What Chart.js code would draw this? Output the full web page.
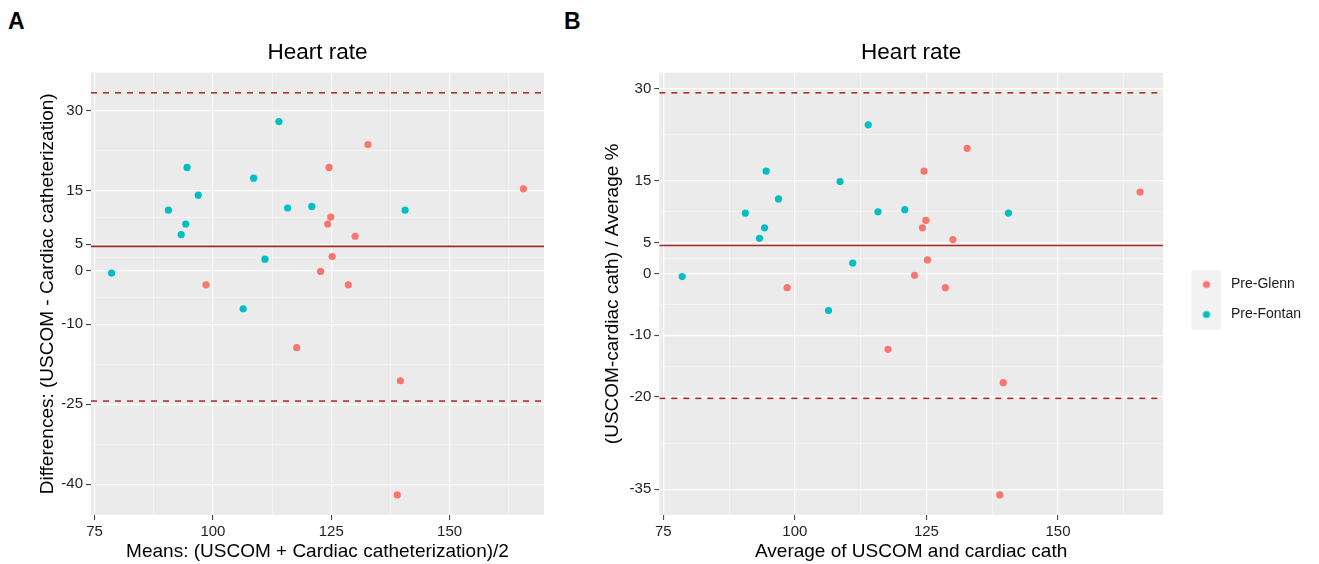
<!DOCTYPE html>
<html>
<head>
<meta charset="utf-8">
<title>Heart rate - Bland-Altman</title>
<script src="https://cdn.jsdelivr.net/npm/chart.js@4/dist/chart.umd.min.js"></script>
<style>
  html, body { margin: 0; padding: 0; background: #ffffff; }
  #wrap { position: relative; width: 1319px; height: 564px; font-family: 'Liberation Sans', Arial, sans-serif; }
  .tag { position: absolute; top: 10px; font-size: 23px; font-weight: bold; line-height: 1; color: #000; }
  #chartA { position: absolute; left: 0; top: 0; }
  #chartB { position: absolute; left: 560px; top: 0; }
</style>
</head>
<body>
<div id="wrap">
  <div class="tag" style="left: 8px;">A</div>
  <div class="tag" style="left: 564px;">B</div>
  <canvas id="chartA" width="560" height="564"></canvas>
  <canvas id="chartB" width="759" height="564"></canvas>
</div>
<script>
// Data
const groups = ['Pre-Glenn', 'Pre-Fontan'];

// Average of USCOM and cardiac cath (same x for both panels)
const glennMean = [132.75, 124.55, 165.6, 124.9, 124.25, 130.05, 125.2, 122.75, 98.55, 128.6, 117.7, 139.6, 138.95];
const fontanMean = [113.95, 94.55, 108.6, 96.9, 90.6, 115.8, 120.9, 140.6, 94.25, 93.3, 111.0, 78.6, 106.4];

// Panel A: differences (USCOM - cardiac catheterization)
const glennDiff = [23.7, 19.4, 15.4, 10.1, 8.8, 6.5, 2.7, -0.1, -2.6, -2.6, -14.4, -20.6, -42.0];
const fontanDiff = [28.0, 19.4, 17.4, 14.2, 11.4, 11.8, 12.1, 11.4, 8.8, 6.8, 2.2, -0.4, -7.1];
const biasA = 4.6;
const upperA = 33.4;
const lowerA = -24.4;

// Panel B: (USCOM - cardiac cath) / average, in %
const glennPct = [20.3, 16.6, 13.2, 8.6, 7.4, 5.5, 2.2, -0.3, -2.3, -2.3, -12.3, -17.7, -35.9];
const fontanPct = [24.1, 16.6, 14.9, 12.1, 9.8, 10.0, 10.35, 9.8, 7.4, 5.7, 1.7, -0.5, -6.0];
const biasB = 4.55;
const upperB = 29.3;
const lowerB = -20.25;

// Axis breaks
const xTicks = [75, 100, 125, 150];
const yTicksA = [-40, -25, -10, 0, 5, 15, 30];
const yTicksB = [-35, -20, -10, 0, 5, 15, 30];

// Colours
const groupColors = ['#F8766D', '#00BFC4'];
const refColor = '#A82828';

Chart.defaults.font.family = "'Liberation Sans', Arial, sans-serif";
Chart.defaults.color = '#222222';

// ggplot-like 5% expansion of the data range
function padRange(values) {
  const lo = Math.min(...values);
  const hi = Math.max(...values);
  const d = (hi - lo) * 0.05;
  return [lo - d, hi + d];
}

// minor breaks halfway between the major ones
function minorBreaks(major, range) {
  const m = [...major].sort((a, b) => a - b);
  const out = [];
  for (let i = 0; i < m.length - 1; i++) out.push((m[i] + m[i + 1]) / 2);
  out.push(m[0] - (m[1] - m[0]) / 2);
  out.push(m[m.length - 1] + (m[m.length - 1] - m[m.length - 2]) / 2);
  return out.filter(v => v > range[0] && v < range[1]);
}

function toPoints(xs, ys) {
  return xs.map((x, i) => ({ x: x, y: ys[i] }));
}

function refLine(y, dashed, xr) {
  return {
    type: 'line',
    isRef: true,
    data: [{ x: xr[0], y: y }, { x: xr[1], y: y }],
    borderColor: refColor,
    borderWidth: dashed ? 1.5 : 1.6,
    borderDash: dashed ? [6, 6] : [],
    pointRadius: 0,
    fill: false
  };
}

function pointSet(label, color, xs, ys) {
  return {
    label: label,
    data: toPoints(xs, ys),
    backgroundColor: color,
    borderWidth: 0,
    pointRadius: 3.6,
    pointHoverRadius: 3.6
  };
}

function axis(range, major, titleText, titlePad, fitSize, horizontal) {
  const minor = minorBreaks(major, range);
  return {
    type: 'linear',
    position: horizontal ? 'bottom' : 'left',
    min: range[0],
    max: range[1],
    afterBuildTicks(scale) {
      scale.ticks = major.map(v => ({ value: v }))
        .concat(minor.map(v => ({ value: v, minor: true })))
        .sort((a, b) => a.value - b.value);
    },
    afterFit(scale) {
      if (horizontal) scale.height = fitSize;
      else scale.width = fitSize;
    },
    border: { display: false },
    grid: {
      color: ctx => (ctx.tick && ctx.tick.minor) ? 'rgba(255,255,255,0.8)' : '#ffffff',
      lineWidth: ctx => (ctx.tick && ctx.tick.minor) ? 0.6 : 1.2,
      tickColor: ctx => (ctx.tick && ctx.tick.minor) ? 'rgba(0,0,0,0)' : '#333333',
      tickWidth: 1,
      tickLength: 5,
      drawTicks: true
    },
    ticks: {
      autoSkip: false,
      maxRotation: 0,
      padding: 3,
      color: '#1f1f1f',
      font: { size: 15 },
      callback: (v, i, t) => t[i].minor ? '' : String(v)
    },
    title: {
      display: true,
      text: titleText,
      color: '#000000',
      font: { size: 19 },
      padding: titlePad
    }
  };
}

// grey panel background
const panelBg = {
  id: 'panelBg',
  beforeDraw(chart) {
    const { ctx, chartArea: a } = chart;
    ctx.save();
    ctx.fillStyle = '#EBEBEB';
    ctx.fillRect(a.left, a.top, a.right - a.left, a.bottom - a.top);
    ctx.restore();
  }
};

// legend key: grey square with a dot, shifted right inside the image
function legendKey(color) {
  const c = document.createElement('canvas');
  c.width = 40;
  c.height = 30;
  const g = c.getContext('2d');
  g.fillStyle = '#F2F2F2';
  g.fillRect(10, 0, 30, 30);
  g.fillStyle = color;
  g.beginPath();
  g.arc(25, 15, 3.6, 0, Math.PI * 2);
  g.fill();
  return c;
}

const xRange = padRange(glennMean.concat(fontanMean));
const yRangeA = padRange(glennDiff.concat(fontanDiff, [upperA, lowerA]));
const yRangeB = padRange(glennPct.concat(fontanPct, [upperB, lowerB]));

// Panel A
new Chart(document.getElementById('chartA'), {
  type: 'scatter',
  data: {
    datasets: [
      pointSet(groups[0], groupColors[0], glennMean, glennDiff),
      pointSet(groups[1], groupColors[1], fontanMean, fontanDiff),
      refLine(biasA, false, xRange),
      refLine(upperA, true, xRange),
      refLine(lowerA, true, xRange)
    ]
  },
  options: {
    responsive: false,
    animation: false,
    events: [],
    layout: { padding: { left: 0, right: 16, top: 0, bottom: 0 } },
    plugins: {
      title: { display: true, text: 'Heart rate', fullSize: false, color: '#000000', font: { size: 22.5, weight: 'normal' }, padding: { top: 39, bottom: 6.7 } },
      legend: { display: false },
      tooltip: { enabled: false }
    },
    scales: {
      x: axis(xRange, xTicks, 'Means: (USCOM + Cardiac catheterization)/2', { top: 0, bottom: 0.6 }, 49, true),
      y: axis(yRangeA, yTicksA, 'Differences: (USCOM - Cardiac catheterization)', { top: 36, bottom: 0 }, 91, false)
    }
  },
  plugins: [panelBg]
});

// Panel B
new Chart(document.getElementById('chartB'), {
  type: 'scatter',
  data: {
    datasets: [
      pointSet(groups[0], groupColors[0], glennMean, glennPct),
      pointSet(groups[1], groupColors[1], fontanMean, fontanPct),
      refLine(biasB, false, xRange),
      refLine(upperB, true, xRange),
      refLine(lowerB, true, xRange)
    ]
  },
  options: {
    responsive: false,
    animation: false,
    events: [],
    layout: { padding: { left: 0, right: 8, top: 35, bottom: 0 } },
    plugins: {
      title: { display: true, text: 'Heart rate', fullSize: false, color: '#000000', font: { size: 22.5, weight: 'normal' }, padding: { top: 4, bottom: 6.7 } },
      legend: {
        display: true,
        position: 'right',
        labels: {
          usePointStyle: true,
          pointStyleWidth: 45,
          padding: 16,
          color: '#1a1a1a',
          font: { size: 14 },
          filter: (item, data) => !data.datasets[item.datasetIndex].isRef,
          generateLabels(chart) {
            const items = Chart.defaults.plugins.legend.labels.generateLabels(chart);
            items.forEach(it => {
              const ds = chart.data.datasets[it.datasetIndex];
              if (!ds.isRef) it.pointStyle = legendKey(ds.backgroundColor);
            });
            return items;
          }
        }
      },
      tooltip: { enabled: false }
    },
    scales: {
      x: axis(xRange, xTicks, 'Average of USCOM and cardiac cath', { top: 0, bottom: 0.6 }, 49, true),
      y: axis(yRangeB, yTicksB, '(USCOM-cardiac cath) / Average %', { top: 41, bottom: 0 }, 99.3, false)
    }
  },
  plugins: [panelBg]
});
</script>
</body>
</html>
